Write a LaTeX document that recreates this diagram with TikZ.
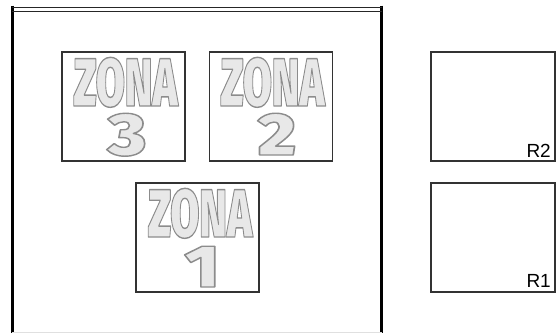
\documentclass[tikz,border=0pt]{standalone}
\usepackage{fontspec}
\setmainfont{Liberation Sans}
\newfontfamily\heavyfont{Fira Sans Black}
\usepackage{graphicx}
\definecolor{zfill}{HTML}{E8E8E8}
\definecolor{boxline}{HTML}{333333}
\newcommand{\outl}[1]{\special{pdf:code q}{\color{zfill}\special{pdf:code 2 Tr 1.4 w 0.55 G 1 j}#1}\special{pdf:code Q}}
\newcommand{\zonaword}{{\heavyfont\fontsize{68}{68}\selectfont\scalebox{0.62}[1]{\outl{ZONA}}}}
\newcommand{\zonanum}[1]{{\heavyfont\fontsize{60}{60}\selectfont\scalebox{1.2}[1]{\outl{#1}}}}
\tikzset{
  zonebox/.style={draw=boxline, line width=1.1pt, rectangle, inner sep=0pt, outer sep=0pt, minimum width=123pt, minimum height=109pt},
  rbox/.style={draw=boxline, line width=1.1pt, rectangle, inner sep=0pt, outer sep=0pt, minimum width=124pt, minimum height=109pt},
  rlabel/.style={inner sep=0pt, anchor=base east, font=\fontsize{19}{19}\selectfont, text=black},
  ztext/.style={inner sep=0pt, anchor=base, text depth=0pt}
}
\begin{document}
\begin{tikzpicture}[x=1pt,y=-1pt]
\useasboundingbox (0,0) rectangle (556,333);
% outer frame
\coordinate (lt) at (12,5.5);
\coordinate (lb) at (12,333);
\coordinate (rt) at (381.5,5.5);
\coordinate (rb) at (381.5,333);
\draw[line width=3pt, black] (lt) -- (lb);
\draw[line width=3pt, black] (rt) -- (rb);
\coordinate (t1l) at (12,7);
\coordinate (t1r) at (381.5,7);
\coordinate (t2l) at (12,11);
\coordinate (t2r) at (381.5,11);
\draw[line width=1pt, black!85] (t1l) -- (t1r);
\draw[line width=1pt, black!85] (t2l) -- (t2r);
\coordinate (bl) at (12,332);
\coordinate (br) at (381.5,332);
\draw[line width=0.8pt, black!12] (bl) -- (br);
% zone boxes
\node[zonebox] (z3) at (123.5,106.5) {};
\node[zonebox] (z2) at (271,106.5) {};
\node[zonebox] (z1) at (197.5,237.5) {};
% zone texts
\node[ztext] (z3w) at (125.5,106) {\zonaword};
\node[ztext] (z3n) at (127,155) {\zonanum{3}};
\node[ztext] (z2w) at (272.5,106) {\zonaword};
\node[ztext] (z2n) at (277,155) {\zonanum{2}};
\node[ztext] (z1w) at (200,237) {\zonaword};
\node[ztext] (z1n) at (202,287) {\zonanum{1}};
% R boxes
\node[rbox] (r2) at (493,106.5) {};
\node[rbox] (r1) at (493,237.5) {};
\node[rlabel] (r2l) at (551,157) {R2};
\node[rlabel] (r1l) at (551,287) {R1};
\end{tikzpicture}
\end{document}
